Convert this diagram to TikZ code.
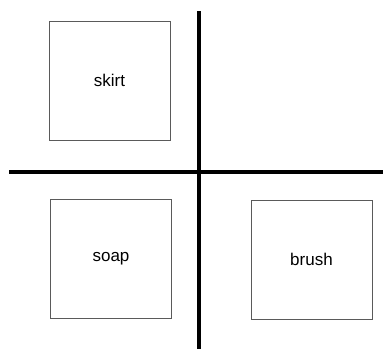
\documentclass[tikz,border=0pt]{standalone}
\usepackage{fontspec}
\setmainfont{Liberation Sans}
\usepackage{xcolor}
\usepackage{tikz}
\usetikzlibrary{positioning}
\definecolor{boxGray}{RGB}{90,90,90}
\definecolor{axisBlack}{RGB}{0,0,0}

\begin{document}
\begin{tikzpicture}[x=1pt,y=-1pt,
    itembox/.style={draw=boxGray, line width=0.9pt, minimum width=121pt, minimum height=119pt,
        font=\fontsize{17}{20}\selectfont, inner sep=0pt},
    divider/.style={axisBlack, line width=4.6pt}]
    \useasboundingbox (0,0) rectangle (383,349);

    \coordinate (vtop) at (199,11);
    \coordinate (vbot) at (199,349);
    \coordinate (hleft) at (9,172);
    \coordinate (hright) at (383,172);
    \draw[divider] (vtop) -- (vbot);
    \draw[divider] (hleft) -- (hright);

    \node[itembox] (skirt) at (109.5,80.5) {skirt};
    \node[itembox] (soap) at (111,258.5) {soap};
    \node[itembox] (brush) at (311.5,259.8) {brush};
\end{tikzpicture}
\end{document}
